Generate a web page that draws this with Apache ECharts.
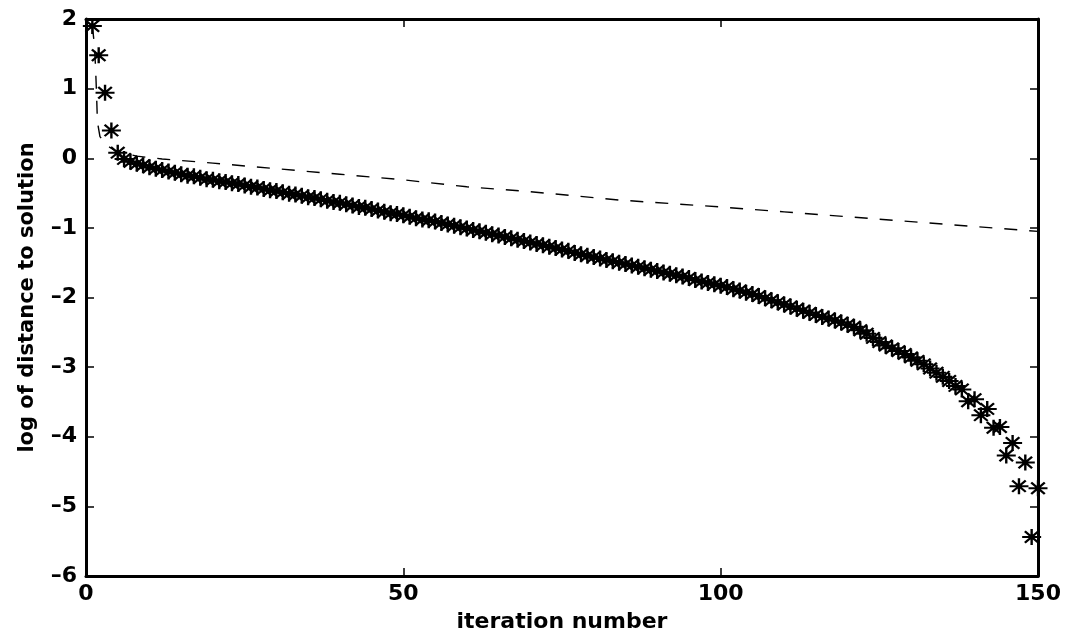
<!DOCTYPE html>
<html>
<head>
<meta charset="utf-8">
<script src="https://cdn.jsdelivr.net/npm/echarts@6/dist/echarts.min.js"></script>
<style>html,body{margin:0;padding:0;background:#fff;}#c{width:1068px;height:638px;}</style>
</head>
<body>
<div id="c"></div>
<script>
// iteration numbers for the starred series
const iterations = [];
for (let i = 1; i <= 150; i++) iterations.push(i);

// log of distance to solution (stars)
const starValues = [
  1.90, 1.48, 0.94, 0.40, 0.08, -0.01, -0.05, -0.08, -0.10, -0.13,
  -0.15, -0.17, -0.19, -0.21, -0.23, -0.25, -0.26, -0.28, -0.30, -0.31,
  -0.33, -0.34, -0.36, -0.37, -0.39, -0.41, -0.42, -0.44, -0.46, -0.47,
  -0.49, -0.51, -0.52, -0.54, -0.56, -0.57, -0.59, -0.61, -0.63, -0.64,
  -0.66, -0.68, -0.70, -0.71, -0.73, -0.75, -0.77, -0.79, -0.80, -0.82,
  -0.84, -0.86, -0.88, -0.89, -0.91, -0.93, -0.95, -0.97, -0.99, -1.01,
  -1.03, -1.05, -1.07, -1.09, -1.11, -1.13, -1.15, -1.17, -1.19, -1.21,
  -1.23, -1.25, -1.27, -1.29, -1.31, -1.33, -1.36, -1.38, -1.40, -1.42,
  -1.44, -1.46, -1.48, -1.50, -1.52, -1.54, -1.56, -1.58, -1.60, -1.62,
  -1.64, -1.66, -1.68, -1.70, -1.72, -1.75, -1.77, -1.79, -1.81, -1.83,
  -1.85, -1.88, -1.90, -1.93, -1.95, -1.98, -2.01, -2.04, -2.07, -2.10,
  -2.13, -2.16, -2.19, -2.22, -2.25, -2.28, -2.30, -2.33, -2.36, -2.39,
  -2.42, -2.47, -2.52, -2.58, -2.64, -2.69, -2.73, -2.77, -2.81, -2.86,
  -2.91, -2.96, -3.02, -3.08, -3.14, -3.20, -3.27, -3.32, -3.49, -3.46,
  -3.69, -3.60, -3.87, -3.86, -4.27, -4.09, -4.71, -4.37, -5.44, -4.74
];

// dashed reference curve
const dashX = [1, 1.3, 1.5, 1.67, 1.8, 2.2, 3.3, 4.6, 8, 12, 20, 30, 40, 50, 60, 70, 84, 92, 100, 110, 120, 130, 140, 150];
const dashY = [1.90, 1.65, 1.32, 0.90, 0.52, 0.31, 0.18, 0.11, 0.03, -0.01, -0.07, -0.15, -0.23, -0.31, -0.41, -0.48, -0.60, -0.65, -0.70, -0.77, -0.84, -0.91, -0.98, -1.05];

const xTicks = [0, 50, 100, 150];
const yTicks = [-6, -5, -4, -3, -2, -1, 0, 1, 2];

const starPath = 'path://M7,0L7,14M0,7L14,7M2,2L12,12M2,12L12,2';
const FONT = 'DejaVu Sans, Liberation Sans, Arial, sans-serif';
const tickFont = { fontFamily: FONT, fontWeight: 'bold', fontSize: 22, color: '#000' };

const chart = echarts.init(document.getElementById('c'), null, { renderer: 'canvas' });
const axisLineStyle = { onZero: false, lineStyle: { color: '#000', width: 3 } };
const tickStyle = { inside: true, length: 8, lineStyle: { color: '#000', width: 1.5 } };
chart.setOption({
  animation: false,
  backgroundColor: '#fff',
  grid: { left: 86, right: 30, top: 19, bottom: 56 },
  xAxis: [
    { type: 'value', min: xTicks[0], max: xTicks[xTicks.length - 1], interval: 50, position: 'bottom',
      axisLine: axisLineStyle, axisTick: tickStyle, splitLine: { show: false },
      axisLabel: Object.assign({ margin: 7 }, tickFont),
      name: 'iteration number', nameLocation: 'middle', nameGap: 35,
      nameTextStyle: { fontFamily: FONT, fontWeight: 'bold', fontSize: 22, color: '#000' } },
    { type: 'value', min: 0, max: 150, interval: 50, position: 'top',
      axisLine: axisLineStyle, axisTick: tickStyle, axisLabel: { show: false }, splitLine: { show: false } }
  ],
  yAxis: [
    { type: 'value', min: yTicks[0], max: yTicks[yTicks.length - 1], interval: 1, position: 'left',
      axisLine: axisLineStyle, axisTick: tickStyle, splitLine: { show: false },
      axisLabel: Object.assign({ margin: 9, formatter: v => String(v).replace('-', '\u2013') }, tickFont),
      name: 'log of distance to solution', nameLocation: 'middle', nameGap: 48, nameRotate: 90,
      nameTextStyle: { fontFamily: FONT, fontWeight: 'bold', fontSize: 21, color: '#000' } },
    { type: 'value', min: -6, max: 2, interval: 1, position: 'right',
      axisLine: axisLineStyle, axisTick: tickStyle, axisLabel: { show: false }, splitLine: { show: false } }
  ],
  series: [
    { type: 'line', data: dashX.map((x, i) => [x, dashY[i]]), showSymbol: false, symbol: 'none', smooth: false,
      lineStyle: { color: '#000', width: 1.4, type: [13, 12] }, silent: true, z: 2 },
    { type: 'scatter', data: iterations.map((x, i) => [x, starValues[i]]), symbol: starPath, symbolSize: [19, 16],
      itemStyle: { color: 'none', borderColor: '#000', borderWidth: 2.2, opacity: 1 }, silent: true, z: 3 }
  ]
});
</script>
</body>
</html>
